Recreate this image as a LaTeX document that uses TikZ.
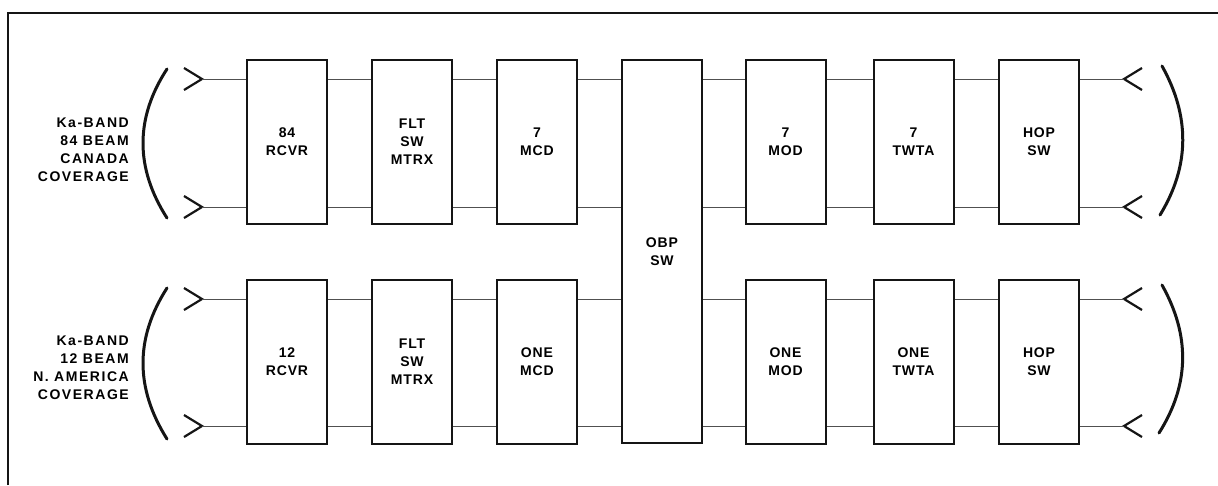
\documentclass[tikz,border=0pt]{standalone}
\usepackage{fontspec}
\setmainfont{Liberation Sans}[LetterSpace=6]
\newfontfamily\widefont{Liberation Sans}[LetterSpace=11]
\usetikzlibrary{calc}
\definecolor{inkcolor}{HTML}{151515}
\colorlet{linkcolor}{inkcolor!75!white}
\tikzstyle{unit} = [
    draw=inkcolor,
    line width=2pt,
    rectangle,
    minimum width=80,
    minimum height=164,
    inner sep=0pt,
    align=center,
    font=\bfseries\fontsize{14}{18}\selectfont
    ]
\tikzstyle{beamlabel} = [
    anchor=east,
    align=right,
    inner sep=0pt,
    font=\widefont\bfseries\fontsize{14}{18}\selectfont
    ]
\tikzstyle{link} = [draw=linkcolor, line width=0.8pt]
\tikzstyle{horn} = [draw=inkcolor, line width=2.2pt]
\tikzstyle{dish} = [draw=inkcolor, line width=3pt, line cap=round]
\newcommand{\feedL}[1]{% receive horn
\draw[horn] ($(#1)+(-18,-11)$) -- (#1) -- ($(#1)+(-18,11)$);}
\newcommand{\feedR}[1]{% transmit horn
\draw[horn] ($(#1)+(18,-11)$) -- (#1) -- ($(#1)+(18,11)$);}

\begin{document}
\begin{tikzpicture}[x=1pt,y=-1pt]
\useasboundingbox (0,0) rectangle (1218,485);
\draw[inkcolor, line width=2.5pt] (8,485) -- (8,13) -- (1218,13);

% Canada chain
\node[unit] (rcvrA) at (287,142) {84\\RCVR};
\node[unit] (fltA) at (412,142) {FLT\\SW\\MTRX};
\node[unit] (mcdA) at (537,142) {7\\MCD};
\node[unit, minimum height=383] (obp) at (662,251.5) {OBP\\SW};
\node[unit] (modA) at (785.5,142) {7\\MOD};
\node[unit] (twtaA) at (913.5,142) {7\\TWTA};
\node[unit] (hopA) at (1039,142) {HOP\\SW};

% N. America chain
\node[unit] (rcvrB) at (287,361.5) {12\\RCVR};
\node[unit] (fltB) at (412,361.5) {FLT\\SW\\MTRX};
\node[unit] (mcdB) at (537,361.5) {ONE\\MCD};
\node[unit] (modB) at (785.5,361.5) {ONE\\MOD};
\node[unit] (twtaB) at (913.5,361.5) {ONE\\TWTA};
\node[unit] (hopB) at (1039,361.5) {HOP\\SW};

\node[beamlabel] (covA) at (129,150) {Ka-BAND\\84 BEAM\\CANADA\\COVERAGE};
\node[beamlabel] (covB) at (129,368) {Ka-BAND\\12 BEAM\\N. AMERICA\\COVERAGE};

\coordinate (inA1) at (202,79);
\coordinate (inA2) at (202,207);
\coordinate (inB1) at (202,299);
\coordinate (inB2) at (202,426);
\coordinate (outA1) at (1124,79);
\coordinate (outA2) at (1124,207);
\coordinate (outB1) at (1124,299);
\coordinate (outB2) at (1124,426);

\feedL{inA1} \feedL{inA2} \feedL{inB1} \feedL{inB2}
\feedR{outA1} \feedR{outA2} \feedR{outB1} \feedR{outB2}

\draw[dish] (167,69) .. controls (135,118) and (135,168) .. (167,218);
\draw[dish] (167,288) .. controls (135,338) and (135,388) .. (167,439);
\draw[dish] (1162,66) .. controls (1190,116) and (1190,166) .. (1160,215);
\draw[dish] (1162,285) .. controls (1190,335) and (1190,384) .. (1159,433);

\draw[link] (inA1) -- (rcvrA.west |- inA1) (rcvrA.east |- inA1) -- (fltA.west |- inA1)
    (fltA.east |- inA1) -- (mcdA.west |- inA1) (mcdA.east |- inA1) -- (obp.west |- inA1)
    (obp.east |- inA1) -- (modA.west |- inA1) (modA.east |- inA1) -- (twtaA.west |- inA1)
    (twtaA.east |- inA1) -- (hopA.west |- inA1) (hopA.east |- inA1) -- (outA1);
\draw[link] (inA2) -- (rcvrA.west |- inA2) (rcvrA.east |- inA2) -- (fltA.west |- inA2)
    (fltA.east |- inA2) -- (mcdA.west |- inA2) (mcdA.east |- inA2) -- (obp.west |- inA2)
    (obp.east |- inA2) -- (modA.west |- inA2) (modA.east |- inA2) -- (twtaA.west |- inA2)
    (twtaA.east |- inA2) -- (hopA.west |- inA2) (hopA.east |- inA2) -- (outA2);
\draw[link] (inB1) -- (rcvrB.west |- inB1) (rcvrB.east |- inB1) -- (fltB.west |- inB1)
    (fltB.east |- inB1) -- (mcdB.west |- inB1) (mcdB.east |- inB1) -- (obp.west |- inB1)
    (obp.east |- inB1) -- (modB.west |- inB1) (modB.east |- inB1) -- (twtaB.west |- inB1)
    (twtaB.east |- inB1) -- (hopB.west |- inB1) (hopB.east |- inB1) -- (outB1);
\draw[link] (inB2) -- (rcvrB.west |- inB2) (rcvrB.east |- inB2) -- (fltB.west |- inB2)
    (fltB.east |- inB2) -- (mcdB.west |- inB2) (mcdB.east |- inB2) -- (obp.west |- inB2)
    (obp.east |- inB2) -- (modB.west |- inB2) (modB.east |- inB2) -- (twtaB.west |- inB2)
    (twtaB.east |- inB2) -- (hopB.west |- inB2) (hopB.east |- inB2) -- (outB2);
\end{tikzpicture}
\end{document}
